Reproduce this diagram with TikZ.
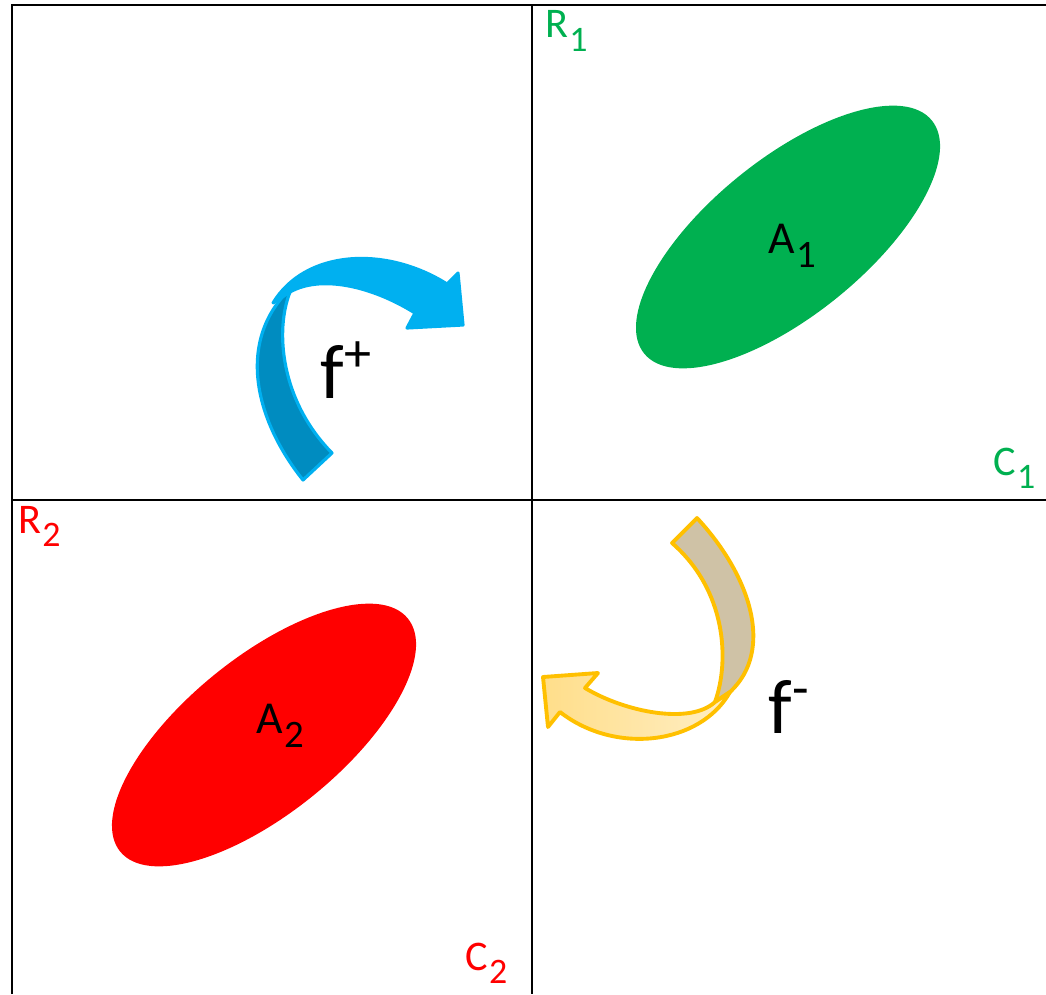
\documentclass[tikz,border=0pt]{standalone}
\usepackage{fontspec}
\setmainfont{Carlito}
\usetikzlibrary{shapes.geometric}
\definecolor{grn}{RGB}{0,176,80}
\definecolor{skyb}{RGB}{0,176,240}
\definecolor{skyd}{RGB}{0,140,192}
\definecolor{gold}{RGB}{255,192,0}
\definecolor{bandtan}{RGB}{207,194,166}
\definecolor{yelL}{RGB}{255,222,138}
\definecolor{yelR}{RGB}{255,238,196}
\newcommand\lowsub[1]{\kern0.02em\raisebox{-0.32em}{\scalebox{0.85}{#1}}}
\begin{document}
\begin{tikzpicture}[x=0.01cm,y=-0.01cm,
  lbl/.style={inner sep=0pt,anchor=base west,font=\fontsize{12}{14}\selectfont},
  blob/.style={ellipse,minimum width=3.7cm,minimum height=1.56cm,inner sep=0pt,rotate=39},
  fn/.style={inner sep=0pt,anchor=base west,font=\fontsize{22}{26}\selectfont}]
\useasboundingbox (0,0) rectangle (1046,994);
% frame
\draw[line width=0.7pt] (12,994) -- (12,5) -- (1046,5);
\draw[line width=0.7pt] (532,5) -- (532,994);
\draw[line width=0.7pt] (12,500) -- (1046,500);
% sets
\node[blob,fill=grn] (e1) at (788,237) {};
\node[blob,fill=red] (e2) at (264,735) {};
\node[lbl,font=\fontsize{13}{15}\selectfont] (a1) at (768,253) {A\lowsub{1}};
\node[lbl,font=\fontsize{13}{15}\selectfont] (a2) at (256,733) {A\lowsub{2}};
\node[lbl,text=grn] (r1) at (545,38) {R\lowsub{1}};
\node[lbl,text=grn] (c1) at (993,475) {C\lowsub{1}};
\node[lbl,text=red] (r2) at (18,533) {R\lowsub{2}};
\node[lbl,text=red] (c2) at (465,970) {C\lowsub{2}};
% f+ arrow
\filldraw[fill=skyd,draw=skyb,line width=0.9pt,line join=round]
  (303,480) .. controls (255,420) and (235,340) .. (292,287)
  -- (290,292) .. controls (275,330) and (280,400) .. (332,453) -- cycle;
\filldraw[fill=skyb,draw=skyb,line width=0.9pt,line join=round]
  (273,303) .. controls (305,250) and (385,245) .. (447,284)
  -- (458,273) -- (463,325) -- (407,328) -- (415,313)
  .. controls (370,285) and (320,275) .. (290,292) -- cycle;
% f- arrow
\filldraw[fill=bandtan,draw=gold,line width=1.1pt,line join=round]
  (697,518) .. controls (750,575) and (775,650) .. (730,692)
  -- (715,702) .. controls (730,660) and (726,590) .. (672,543) -- cycle;
\filldraw[left color=yelL,right color=yelR,draw=gold,line width=1.1pt,line join=round]
  (730,692) .. controls (700,745) and (615,755) .. (560,712)
  -- (548,727) -- (543,677) -- (598,673) -- (585,688)
  .. controls (625,712) and (690,725) .. (715,702) -- cycle;
\node[fn] (fp) at (320,398) {f\textsuperscript{+}};
\node[fn] (fm) at (768,733) {f\textsuperscript{-}};
\end{tikzpicture}
\end{document}
